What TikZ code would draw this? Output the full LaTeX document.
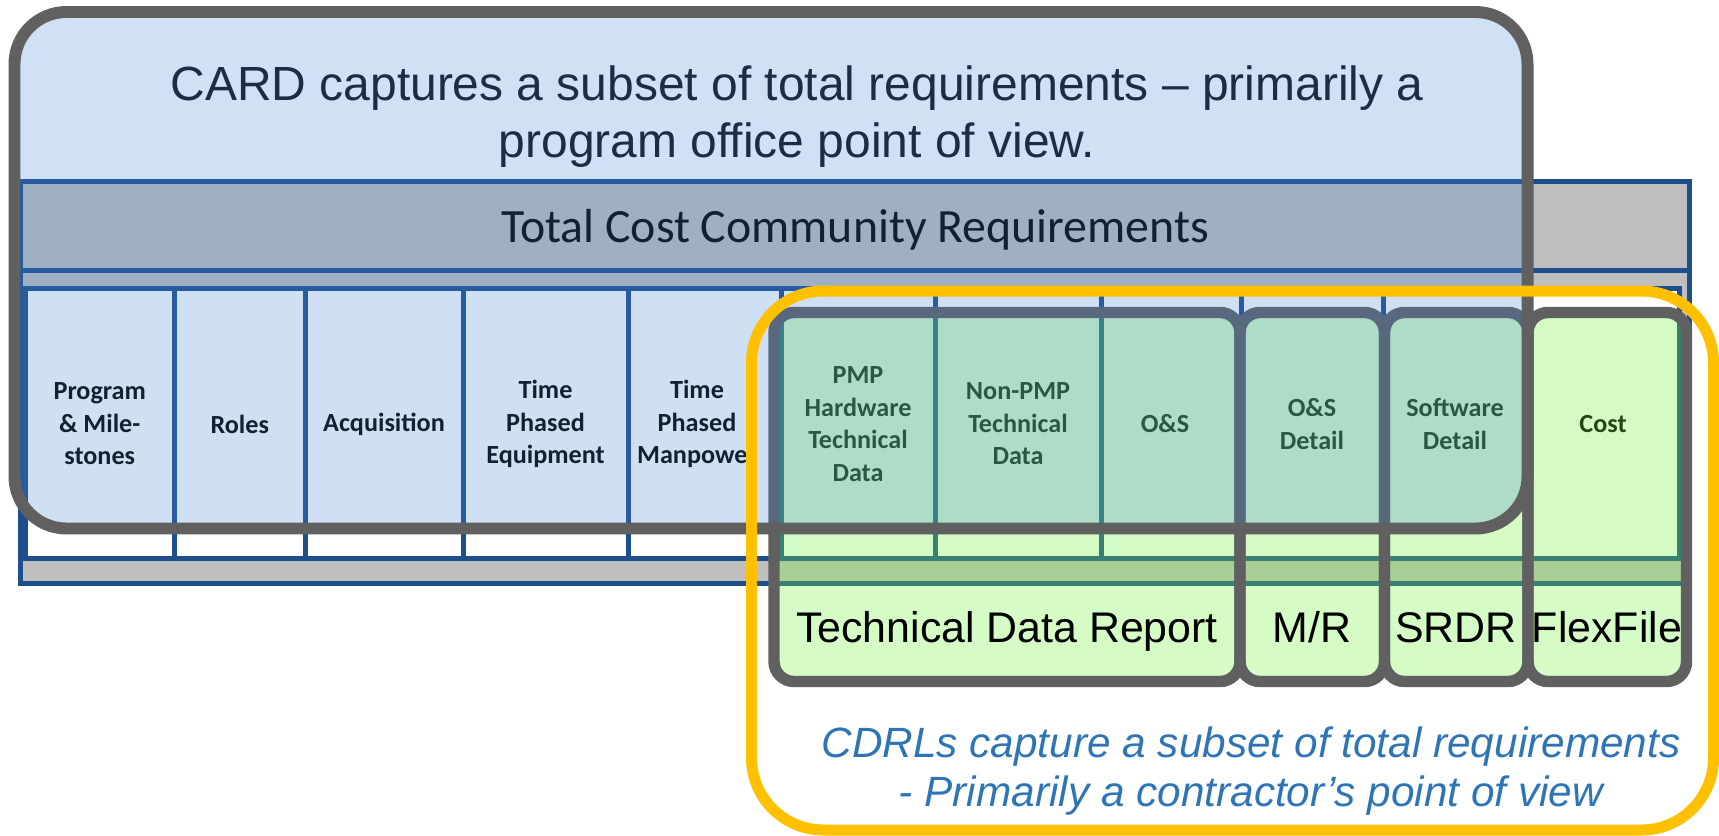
\documentclass[tikz,border=0pt]{standalone}
\usepackage{fontspec}
\setmainfont{Liberation Sans}
\newfontfamily\calibri{Carlito}
\usepackage{tikz}

\definecolor{boxgray}{HTML}{606060}
\definecolor{tableblue}{HTML}{1F4E8C}
\definecolor{bandgray}{HTML}{BFBFBF}
\definecolor{cardblue}{RGB}{66,133,214}
\definecolor{cardtext}{HTML}{1D2B45}
\definecolor{cdrlgreen}{RGB}{112,245,58}
\definecolor{cdrlyellow}{HTML}{FFC000}
\definecolor{cdrlblue}{HTML}{2E75B6}

\begin{document}
\begin{tikzpicture}[x=0.02cm, y=-0.02cm,
	tableline/.style={draw=tableblue, line width=2.85pt},
	cell/.style={tableline, fill=white},
	coltext/.style={font=\calibri\bfseries\fontsize{14.9}{18.5}\selectfont, align=center, inner sep=0pt},
	cdrlbox/.style={draw=boxgray, line width=6.5pt, fill=cdrlgreen, fill opacity=0.3, rounded corners=11.4pt},
	cdrltext/.style={font=\fontsize{24.4}{28}\selectfont, anchor=base, inner sep=0pt}]
	\useasboundingbox (0, 0) rectangle (1719, 835);

	\filldraw[tableline, fill=bandgray] (20.5, 181.5) rectangle (1689.5, 583.5);
	\draw[tableline] (20.5, 270) -- (1689.5, 270);
	\foreach \xa/\xb in {25/174.5, 174.5/305, 305/463, 463/628, 628/781, 781/935, 935/1101, 1101/1241, 1241/1383, 1383/1527, 1527/1679}
		\filldraw[cell] (\xa, 288.5) rectangle (\xb, 558.5);

	\node[font=\calibri\fontsize{27.2}{32}\selectfont, anchor=base, inner sep=0pt] (total) at (855, 242) {Total Cost Community Requirements};

	\node[coltext] (prog) at (99.75, 424)   {Program\\\& Mile-\\stones};
	\node[coltext] (roles) at (239.75, 424) {Roles};
	\node[coltext] (acq) at (384, 424)      {Acquisition};
	\node[coltext] (equip) at (545.5, 424)  {Time\\Phased\\Equipment};
	\node[coltext] (manp) at (697, 424)     {Time\\Phased\\Manpower};
	\node[coltext] (pmp) at (858, 424)      {PMP\\Hardware\\Technical\\Data};
	\node[coltext] (nonpmp) at (1018, 424)  {Non-PMP\\Technical\\Data};
	\node[coltext] (os) at (1165, 424)      {O\&S};
	\node[coltext] (osdet) at (1312, 424)   {O\&S\\Detail};
	\node[coltext] (swdet) at (1455, 424)   {Software\\Detail};
	\node[coltext] (cost) at (1603, 424)    {Cost};

	\filldraw[cdrlbox] (774, 312.5) rectangle (1240, 681.5);
	\filldraw[cdrlbox] (1240, 312.5) rectangle (1384.5, 681.5);
	\filldraw[cdrlbox] (1384.5, 312.5) rectangle (1528, 681.5);
	\filldraw[cdrlbox] (1528, 312.5) rectangle (1686.5, 681.5);

	\node[cdrltext] (tdr) at (1007, 642)  {Technical Data Report};
	\node[cdrltext] (mr) at (1312, 642)   {M/R};
	\node[cdrltext] (srdr) at (1456, 642) {SRDR};
	\node[cdrltext] (flex) at (1607, 642) {FlexFile};

	\filldraw[draw=boxgray, line width=6.8pt, fill=cardblue, fill opacity=0.25, rounded corners=29.6pt] (14.5, 12) rectangle (1527.5, 528.5);
	\node[font=\fontsize{27.3}{32.4}\selectfont, text=cardtext, align=center, inner sep=0pt] (card) at (797, 117) {CARD captures a subset of total requirements – primarily a\\program office point of view.};

	\draw[draw=cdrlyellow, line width=6.26pt, rounded corners=41pt] (751.5, 291) rectangle (1713.5, 830);
	\node[font=\itshape\fontsize{24.1}{27.6}\selectfont, text=cdrlblue, align=center, inner sep=0pt] (cdrl) at (1251, 771) {CDRLs capture a subset of total requirements\\- Primarily a contractor’s point of view};
\end{tikzpicture}
\end{document}
